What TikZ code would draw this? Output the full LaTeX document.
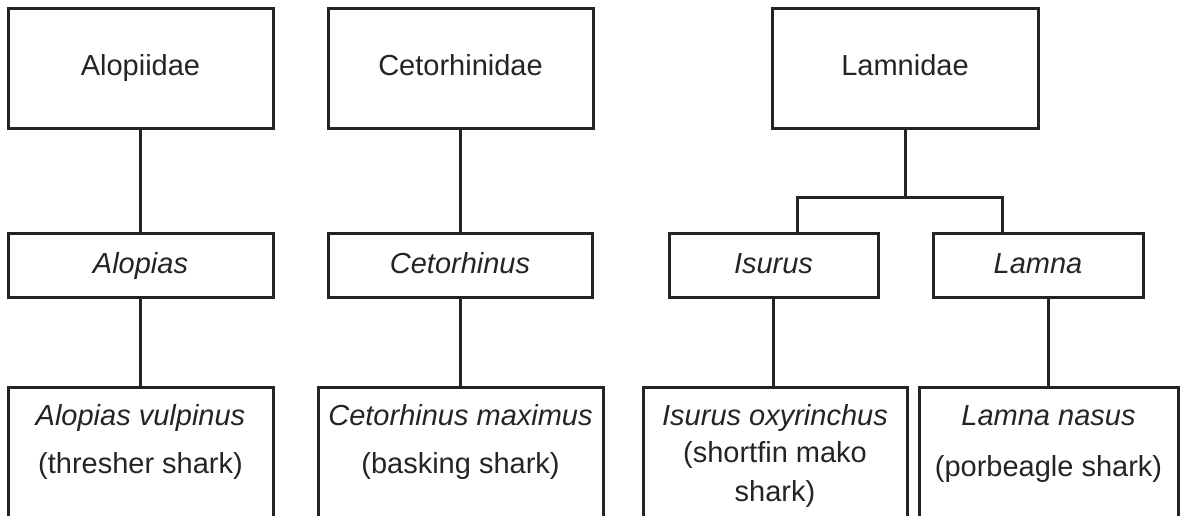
\documentclass[tikz,border=0pt]{standalone}
\usepackage{fontspec}
\setmainfont{Liberation Sans}
\definecolor{ink}{HTML}{242424}
\begin{document}
\begin{tikzpicture}[x=1pt,y=-1pt,
  every node/.style={font=\fontsize{29}{34}\selectfont, text=ink},
  box/.style={draw=ink, line width=3pt, inner sep=0pt, text height=21pt, text depth=6pt, align=center},
  openbox/.style={draw=ink, line width=3pt, inner sep=0pt, minimum height=160pt},
  lbl/.style={anchor=base, inner sep=0pt},
  link/.style={draw=ink, line width=3pt, line join=miter}]
\clip (0,0) rectangle (1181,515);
% families
\node[box, minimum width=265pt, minimum height=120pt] (fam1) at (140.5,68) {Alopiidae};
\node[box, minimum width=265pt, minimum height=120pt] (fam2) at (460.5,68) {Cetorhinidae};
\node[box, minimum width=266pt, minimum height=120pt] (fam3) at (905,68) {Lamnidae};
% genera
\node[box, minimum width=265pt, minimum height=64pt] (gen1) at (140.5,265.5) {\itshape Alopias};
\node[box, minimum width=264pt, minimum height=64pt] (gen2) at (460,265.5) {\itshape Cetorhinus};
\node[box, minimum width=209pt, minimum height=64pt] (gen3) at (773.5,265.5) {\itshape Isurus};
\node[box, minimum width=210pt, minimum height=64pt] (gen4) at (1038,265.5) {\itshape Lamna};
% species boxes (open at the bottom edge)
\node[openbox, minimum width=265pt] (sp1) at (140.5,467) {};
\node[openbox, minimum width=285pt] (sp2) at (460.5,467) {};
\node[openbox, minimum width=264pt] (sp3) at (775,467) {};
\node[openbox, minimum width=259pt] (sp4) at (1048.5,467) {};
% species texts
\node[lbl] (t1a) at (140.5,425) {\itshape Alopias vulpinus};
\node[lbl] (t1b) at (140.5,473) {(thresher shark)};
\node[lbl] (t2a) at (460.5,425) {\itshape Cetorhinus maximus};
\node[lbl] (t2b) at (460.5,473) {(basking shark)};
\node[lbl] (t3a) at (775,425) {\itshape Isurus oxyrinchus};
\node[lbl] (t3b) at (775,462) {(shortfin mako};
\node[lbl] (t3c) at (775,501) {shark)};
\node[lbl] (t4a) at (1048.5,425) {\itshape Lamna nasus};
\node[lbl] (t4b) at (1048.5,476) {(porbeagle shark)};
% connectors
\draw[link] (fam1.south) -- (gen1.north);
\draw[link] (gen1.south) -- (sp1.north);
\draw[link] (fam2.south) -- (fam2.south |- gen2.north);
\draw[link] (gen2.south) -- (gen2.south |- sp2.north);
\coordinate (j) at (905,197);
\coordinate (bl) at (797,197);
\coordinate (br) at (1002,197);
\draw[link] (fam3.south) -- (j);
\draw[link] (bl |- gen3.north) -- (bl) -- (br) -- (br |- gen4.north);
\draw[link] (gen3.south) -- (gen3.south |- sp3.north);
\draw[link] (sp4.north |- gen4.south) -- (sp4.north);
\end{tikzpicture}
\end{document}
